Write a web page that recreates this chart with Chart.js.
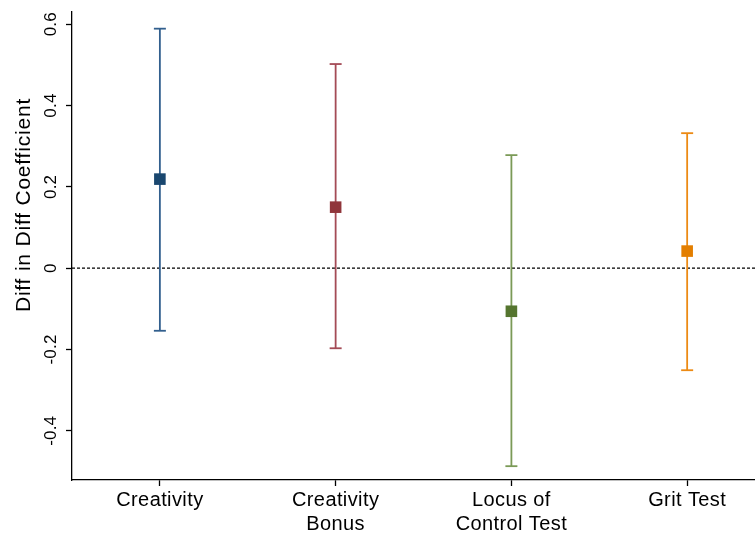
<!DOCTYPE html>
<html>
<head>
<meta charset="utf-8">
<script src="https://cdn.jsdelivr.net/npm/chart.js@4/dist/chart.umd.min.js"></script>
<style>
  html, body { margin: 0; padding: 0; background: #fff; }
  canvas { display: block; }
</style>
</head>
<body>
<canvas id="chart" width="755" height="534"></canvas>
<script>
// Outcome categories (multi-line axis labels)
const categories = [["Creativity"], ["Creativity", "Bonus"], ["Locus of", "Control Test"], ["Grit Test"]];
// Point estimates and 95% confidence bounds
const estimates = [0.219, 0.150, -0.106, 0.042];
const ciLower = [-0.154, -0.197, -0.487, -0.251];
const ciUpper = [0.589, 0.502, 0.278, 0.332];
// Y axis tick values
const yTickValues = [-0.4, -0.2, 0, 0.2, 0.4, 0.6];
const yTitle = "Diff in Diff Coefficient";

const markerColors = ["#1a476f", "#90353b", "#55752f", "#e37e00"];
const lineColors = ["#325f8e", "#a44b56", "#7b9a57", "#ec8a14"];

const X_MIN = 0.5, X_MAX = 4.386;
const Y_MIN = -0.521, Y_MAX = 0.63;
const FONT = "'Liberation Sans', Arial, Helvetica, sans-serif";

const datasets = [];

// Reference line at zero
datasets.push({
  type: "line",
  data: [{ x: X_MIN, y: 0 }, { x: X_MAX, y: 0 }],
  borderColor: "#000",
  borderWidth: 1.1,
  borderDash: [3, 2],
  pointRadius: 0,
  order: 3
});

// Confidence-interval whiskers with caps
categories.forEach((c, i) => {
  datasets.push({
    type: "line",
    data: [{ x: i + 1, y: ciLower[i] }, { x: i + 1, y: ciUpper[i] }],
    borderColor: lineColors[i],
    borderWidth: 1.8,
    pointStyle: "line",
    pointRadius: 6,
    pointBorderWidth: 1.8,
    pointBorderColor: lineColors[i],
    order: 2
  });
});

// Point estimates
datasets.push({
  type: "scatter",
  data: estimates.map((v, i) => ({ x: i + 1, y: v })),
  pointStyle: "rect",
  pointRadius: 8.2,
  pointBackgroundColor: markerColors,
  pointBorderColor: markerColors,
  pointBorderWidth: 0,
  order: 1
});

// Slightly looser text tracking for the category labels
const textSpacing = {
  id: "textSpacing",
  beforeDraw(chart) { chart.ctx.letterSpacing = "0.4px"; },
  afterDraw(chart) { chart.ctx.letterSpacing = "0px"; }
};

// Rotated y tick labels and axis title
const yLabels = {
  id: "yLabels",
  afterDraw(chart) {
    const { ctx, scales: { y } } = chart;
    ctx.save();
    ctx.fillStyle = "#000";
    ctx.textAlign = "center";
    ctx.textBaseline = "middle";
    ctx.font = "17px " + FONT;
    ctx.letterSpacing = "0.2px";
    yTickValues.forEach(v => {
      const py = y.getPixelForValue(v);
      ctx.save();
      ctx.translate(51, py);
      ctx.rotate(-Math.PI / 2);
      ctx.fillText(String(v), 0, 0);
      ctx.restore();
    });
    ctx.font = "21px " + FONT;
    ctx.letterSpacing = "0.8px";
    ctx.translate(24, 205);
    ctx.rotate(-Math.PI / 2);
    ctx.fillText(yTitle, 0, 0);
    ctx.restore();
  }
};

new Chart(document.getElementById("chart"), {
  data: { datasets },
  options: {
    responsive: false,
    animation: false,
    devicePixelRatio: 1,
    layout: { autoPadding: false, padding: { top: 12, right: 0, bottom: 0, left: 0 } },
    plugins: { legend: { display: false }, tooltip: { enabled: false } },
    scales: {
      x: {
        type: "linear",
        min: X_MIN,
        max: X_MAX,
        afterBuildTicks(scale) {
          scale.ticks = categories.map((c, i) => ({ value: i + 1 }));
        },
        afterFit(scale) { scale.height = 54; },
        ticks: {
          autoSkip: false,
          maxRotation: 0,
          minRotation: 0,
          padding: 2,
          color: "#000",
          font: { family: FONT, size: 20, lineHeight: 1.2 },
          callback: (v) => categories[Math.round(v) - 1]
        },
        grid: { drawOnChartArea: false, tickLength: 6, color: "#000", tickWidth: 1.3 },
        border: { display: true, color: "#000", width: 1.3 }
      },
      y: {
        type: "linear",
        min: Y_MIN,
        max: Y_MAX,
        afterBuildTicks(scale) {
          scale.ticks = yTickValues.map(v => ({ value: v }));
        },
        afterFit(scale) { scale.width = 72; },
        ticks: { display: false },
        grid: { drawOnChartArea: false, tickLength: 6, color: "#000", tickWidth: 1.3, drawTicks: true },
        border: { display: true, color: "#000", width: 1.3 }
      }
    }
  },
  plugins: [textSpacing, yLabels]
});
</script>
</body>
</html>
